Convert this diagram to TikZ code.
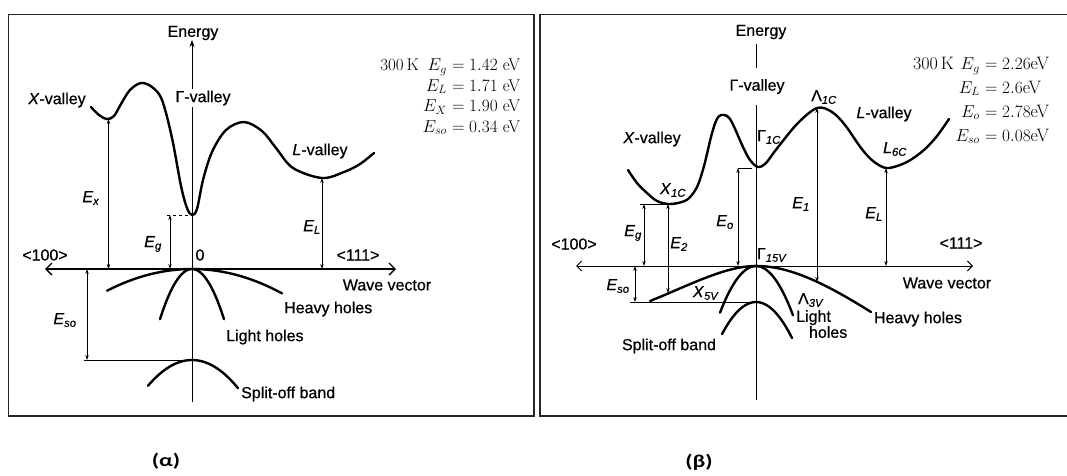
\documentclass[tikz,border=0pt]{standalone}
\usepackage{fontspec}
\setsansfont{Liberation Sans}[FakeBold=0.6]
\newfontfamily\capfont{Carlito}[FakeStretch=1.3]
\usetikzlibrary{arrows.meta}
\newcommand\Esub[1]{\textit{E}\textsubscript{\textit{#1}}}
\newcommand\Vsub[2]{#1\textsubscript{\textit{#2}}}
\begin{document}
\begin{tikzpicture}[x=1pt,y=-1pt,
  band/.style={line width=2.4pt, line cap=round, line join=round},
  dimline/.style={line width=0.8pt, {Stealth[length=5pt,width=3.4pt]}-{Stealth[length=5pt,width=3.4pt]}},
  thinline/.style={line width=0.8pt},
  axisline/.style={line width=1.3pt},
  barbs/.style={{Straight Barb[length=6pt,width=12pt,line width=1.3pt]}-{Straight Barb[length=6pt,width=12pt,line width=1.3pt]}},
  frame/.style={line width=1.6pt, draw=black!85},
  lab/.style={font=\sffamily\fontsize{16}{19}\selectfont, inner sep=1pt},
  vals/.style={font=\fontsize{17}{20}\selectfont, inner sep=0pt},
  valsr/.style={font=\fontsize{18}{21}\selectfont, inner sep=0pt},
  captext/.style={font=\capfont\bfseries\fontsize{18}{21}\selectfont, inner sep=0pt}]
\useasboundingbox (0,0) rectangle (1067,475);
% frames
\draw[frame] (8.6,14.5) rectangle (534,416);
\draw[frame] (1070,14.5) -- (540,14.5) -- (540,416) -- (1070,416);

%================ LEFT PANEL (GaAs) =================
\coordinate (aL0) at (192,269);      % origin
\coordinate (aLl) at (45,269);
\coordinate (aLr) at (396,269);
\coordinate (eLtop) at (192,40);
\coordinate (eLbot) at (192,402);
\coordinate (xminL) at (108.5,119);
\coordinate (gminL) at (192,215);
\coordinate (lminL) at (322,178);
\coordinate (soL) at (192,360);
% axes
\draw[axisline,barbs] (aLl) -- (aLr);
\draw[thinline,-{Stealth[length=7pt,width=5pt]}] (eLbot) -- (eLtop);
% conduction band
\draw[band] plot[smooth,tension=0.55] coordinates {(91,107) (99,115) (107,119) (114,116) (121,104) (130,90) (141,83) (152,87) (162,100) (172,138) (181,186) (187,208) (192,215) (197,209) (203,180) (212,152) (226,130) (244,122) (262,131) (276,148) (293,168) (322,178) (344,172) (360,164) (374,153)};
% valence bands
\draw[band] plot[domain=-85:90,samples=50] ({192+\x},{269+0.0030*\x*\x});
\draw[band] plot[domain=-32:32,samples=40] ({192+\x},{269+0.049*\x*\x});
\draw[band] plot[domain=-44:46,samples=40] ({192+\x},{360+0.0133*\x*\x});
% dimension lines
\draw[dimline] (xminL) -- (xminL |- aL0);
\draw[dimline] (170,215) -- (170,269);
\draw[thinline,dashed] (167,215) -- (gminL);
\draw[dimline] (lminL) -- (lminL |- aL0);
\draw[dimline] (87,269) -- (87,360);
\draw[thinline] (84,360) -- (soL);
% labels
\node[lab] (energyL) at (193,33) {Energy};
\node[lab,fill=white,inner sep=2pt] (gvalL) at (203,98) {Γ-valley};
\node[lab] (xvalL) at (57,100) {\textit{X}-valley};
\node[lab] (lvalL) at (320,151) {\textit{L}-valley};
\node[lab] (exL) at (91,198) {\Esub{x}};
\node[lab] (egL) at (153,244) {\Esub{g}};
\node[lab] (elL) at (312,227) {\Esub{L}};
\node[lab] (esoL) at (65,320) {\Esub{so}};
\node[lab] (d100L) at (45,255) {<100>};
\node[lab] (zeroL) at (200,255) {0};
\node[lab] (d111L) at (358,255) {<111>};
\node[lab] (wvL) at (387,285) {Wave vector};
\node[lab,anchor=west] (hhL) at (283,309) {Heavy holes};
\node[lab,anchor=west] (lhL) at (225,337) {Light holes};
\node[lab,anchor=west] (sobL) at (240,394) {Split-off band};
% values
\node[vals,anchor=base east] (tL) at (419,70.5) {300\,K};
\node[vals,anchor=base east] (v1a) at (447,70.5) {$E_g$};
\node[vals,anchor=base west] (v1b) at (447,70.5) {${}=1.42$ eV};
\node[vals,anchor=base east] (v2a) at (447,91) {$E_L$};
\node[vals,anchor=base west] (v2b) at (447,91) {${}=1.71$ eV};
\node[vals,anchor=base east] (v3a) at (447,111.5) {$E_X$};
\node[vals,anchor=base west] (v3b) at (447,111.5) {${}=1.90$ eV};
\node[vals,anchor=base east] (v4a) at (447,132) {$E_{so}$};
\node[vals,anchor=base west] (v4b) at (447,132) {${}=0.34$ eV};

%================ RIGHT PANEL (GaP) =================
\coordinate (aR0) at (756,266);
\coordinate (aRl) at (576,266);
\coordinate (aRr) at (973,266);
\coordinate (eRa) at (756,44);
\coordinate (eRb) at (756,68);
\coordinate (eRc) at (756,105);
\coordinate (eRd) at (756,400);
\coordinate (xminR) at (668,204);
\coordinate (gminR) at (758,168);
\coordinate (lamR) at (817,108);
\coordinate (lminR) at (886,168);
\coordinate (hhE2) at (668,293);
\coordinate (hhE1) at (817,282);
\coordinate (soR) at (756,302);
% axes
\draw[line width=1pt,{Straight Barb[length=5pt,width=10pt,line width=1pt]}-{Straight Barb[length=5pt,width=10pt,line width=1pt]}] (aRl) -- (aRr);
\draw[thinline] (eRa) -- (eRb);
\draw[thinline] (eRc) -- (eRd);
% conduction band
\draw[band] plot[smooth,tension=0.55] coordinates {(628,170) (637,183) (647,193) (657,201) (668,204) (678,203) (688,199) (697,187) (704,166) (711,137) (716,121) (721,115) (730,119) (743,147) (750,160) (758,167) (766,163) (775,151) (797,124) (817,108) (832,112) (845,125) (861,148) (873,161) (886,168) (900,165) (912,159) (925,149) (937,136) (949,119)};
% valence bands
\draw[band] (650,301) .. controls (690,285) and (725,266) .. (756,266) .. controls (787,266) and (820,280) .. (871,312);
\draw[band] plot[domain=-36:37,samples=40] ({756+\x},{266+0.036*\x*\x});
\draw[band] plot[domain=-34:36,samples=40] ({756+\x},{302+0.0278*\x*\x});
% dimension lines
\draw[dimline] (644,204) -- (644,266);
\draw[thinline] (640,204) -- (xminR);
\draw[dimline] (xminR) -- (hhE2);
\draw[dimline] (738,168) -- (738,266);
\draw[thinline] (738,168) -- (752,168);
\draw[dimline] (lamR) -- (hhE1);
\draw[dimline] (lminR) -- (lminR |- aR0);
\draw[dimline] (635,266) -- (635,302);
\draw[thinline] (630,302) -- (soR);
% labels
\node[lab] (energyR) at (761,32) {Energy};
\node[lab] (gvalR) at (757,86.5) {Γ-valley};
\node[lab] (xvalR) at (652,139) {\textit{X}-valley};
\node[lab] (x1c) at (673,190) {\Vsub{\textit{X}}{1C}};
\node[lab] (g1c) at (769,137) {\Vsub{Γ}{1C}};
\node[lab] (l1c) at (824,97) {\Vsub{Λ}{1C}};
\node[lab] (lvalR) at (884,114) {\textit{L}-valley};
\node[lab] (l6c) at (895,149) {\Vsub{\textit{L}}{6C}};
\node[lab] (egR) at (633,233) {\Esub{g}};
\node[lab] (e2R) at (679,244) {\Esub{2}};
\node[lab] (eoR) at (725,222) {\Esub{o}};
\node[lab] (e1R) at (801,204) {\Esub{1}};
\node[lab] (elR) at (874,214) {\Esub{L}};
\node[lab] (esoR) at (618,286) {\Esub{so}};
\node[lab] (d100R) at (574,244) {<100>};
\node[lab] (d111R) at (961,243) {<111>};
\node[lab] (wvR) at (947,283) {Wave vector};
\node[lab] (g15v) at (772,255) {\Vsub{Γ}{15V}};
\node[lab] (x5v) at (706,293) {\Vsub{\textit{X}}{5V}};
\node[lab] (l3v) at (811,300) {\Vsub{Λ}{3V}};
\node[lab,align=left,anchor=north west] (lhR) at (795,309) {Light\\[-3pt]\hspace*{0.8em}holes};
\node[lab] (hhR) at (918,319) {Heavy holes};
\node[lab] (sobR) at (669,346) {Split-off band};
% values
\node[valsr,anchor=base east] (tR) at (954,69.5) {300\,K};
\node[valsr,anchor=base east] (w1a) at (980,69.5) {$E_g$};
\node[valsr,anchor=base west] (w1b) at (980,69.5) {${}=2.26$eV};
\node[valsr,anchor=base east] (w2a) at (980,93) {$E_L$};
\node[valsr,anchor=base west] (w2b) at (980,93) {${}=2.6$eV};
\node[valsr,anchor=base east] (w3a) at (980,117) {$E_o$};
\node[valsr,anchor=base west] (w3b) at (980,117) {${}=2.78$eV};
\node[valsr,anchor=base east] (w4a) at (980,141) {$E_{so}$};
\node[valsr,anchor=base west] (w4b) at (980,141) {${}=0.08$eV};

% captions
\node[captext] (capA) at (166,461) {(α)};
\node[captext] (capB) at (699,462) {(β)};
\end{tikzpicture}
\end{document}
